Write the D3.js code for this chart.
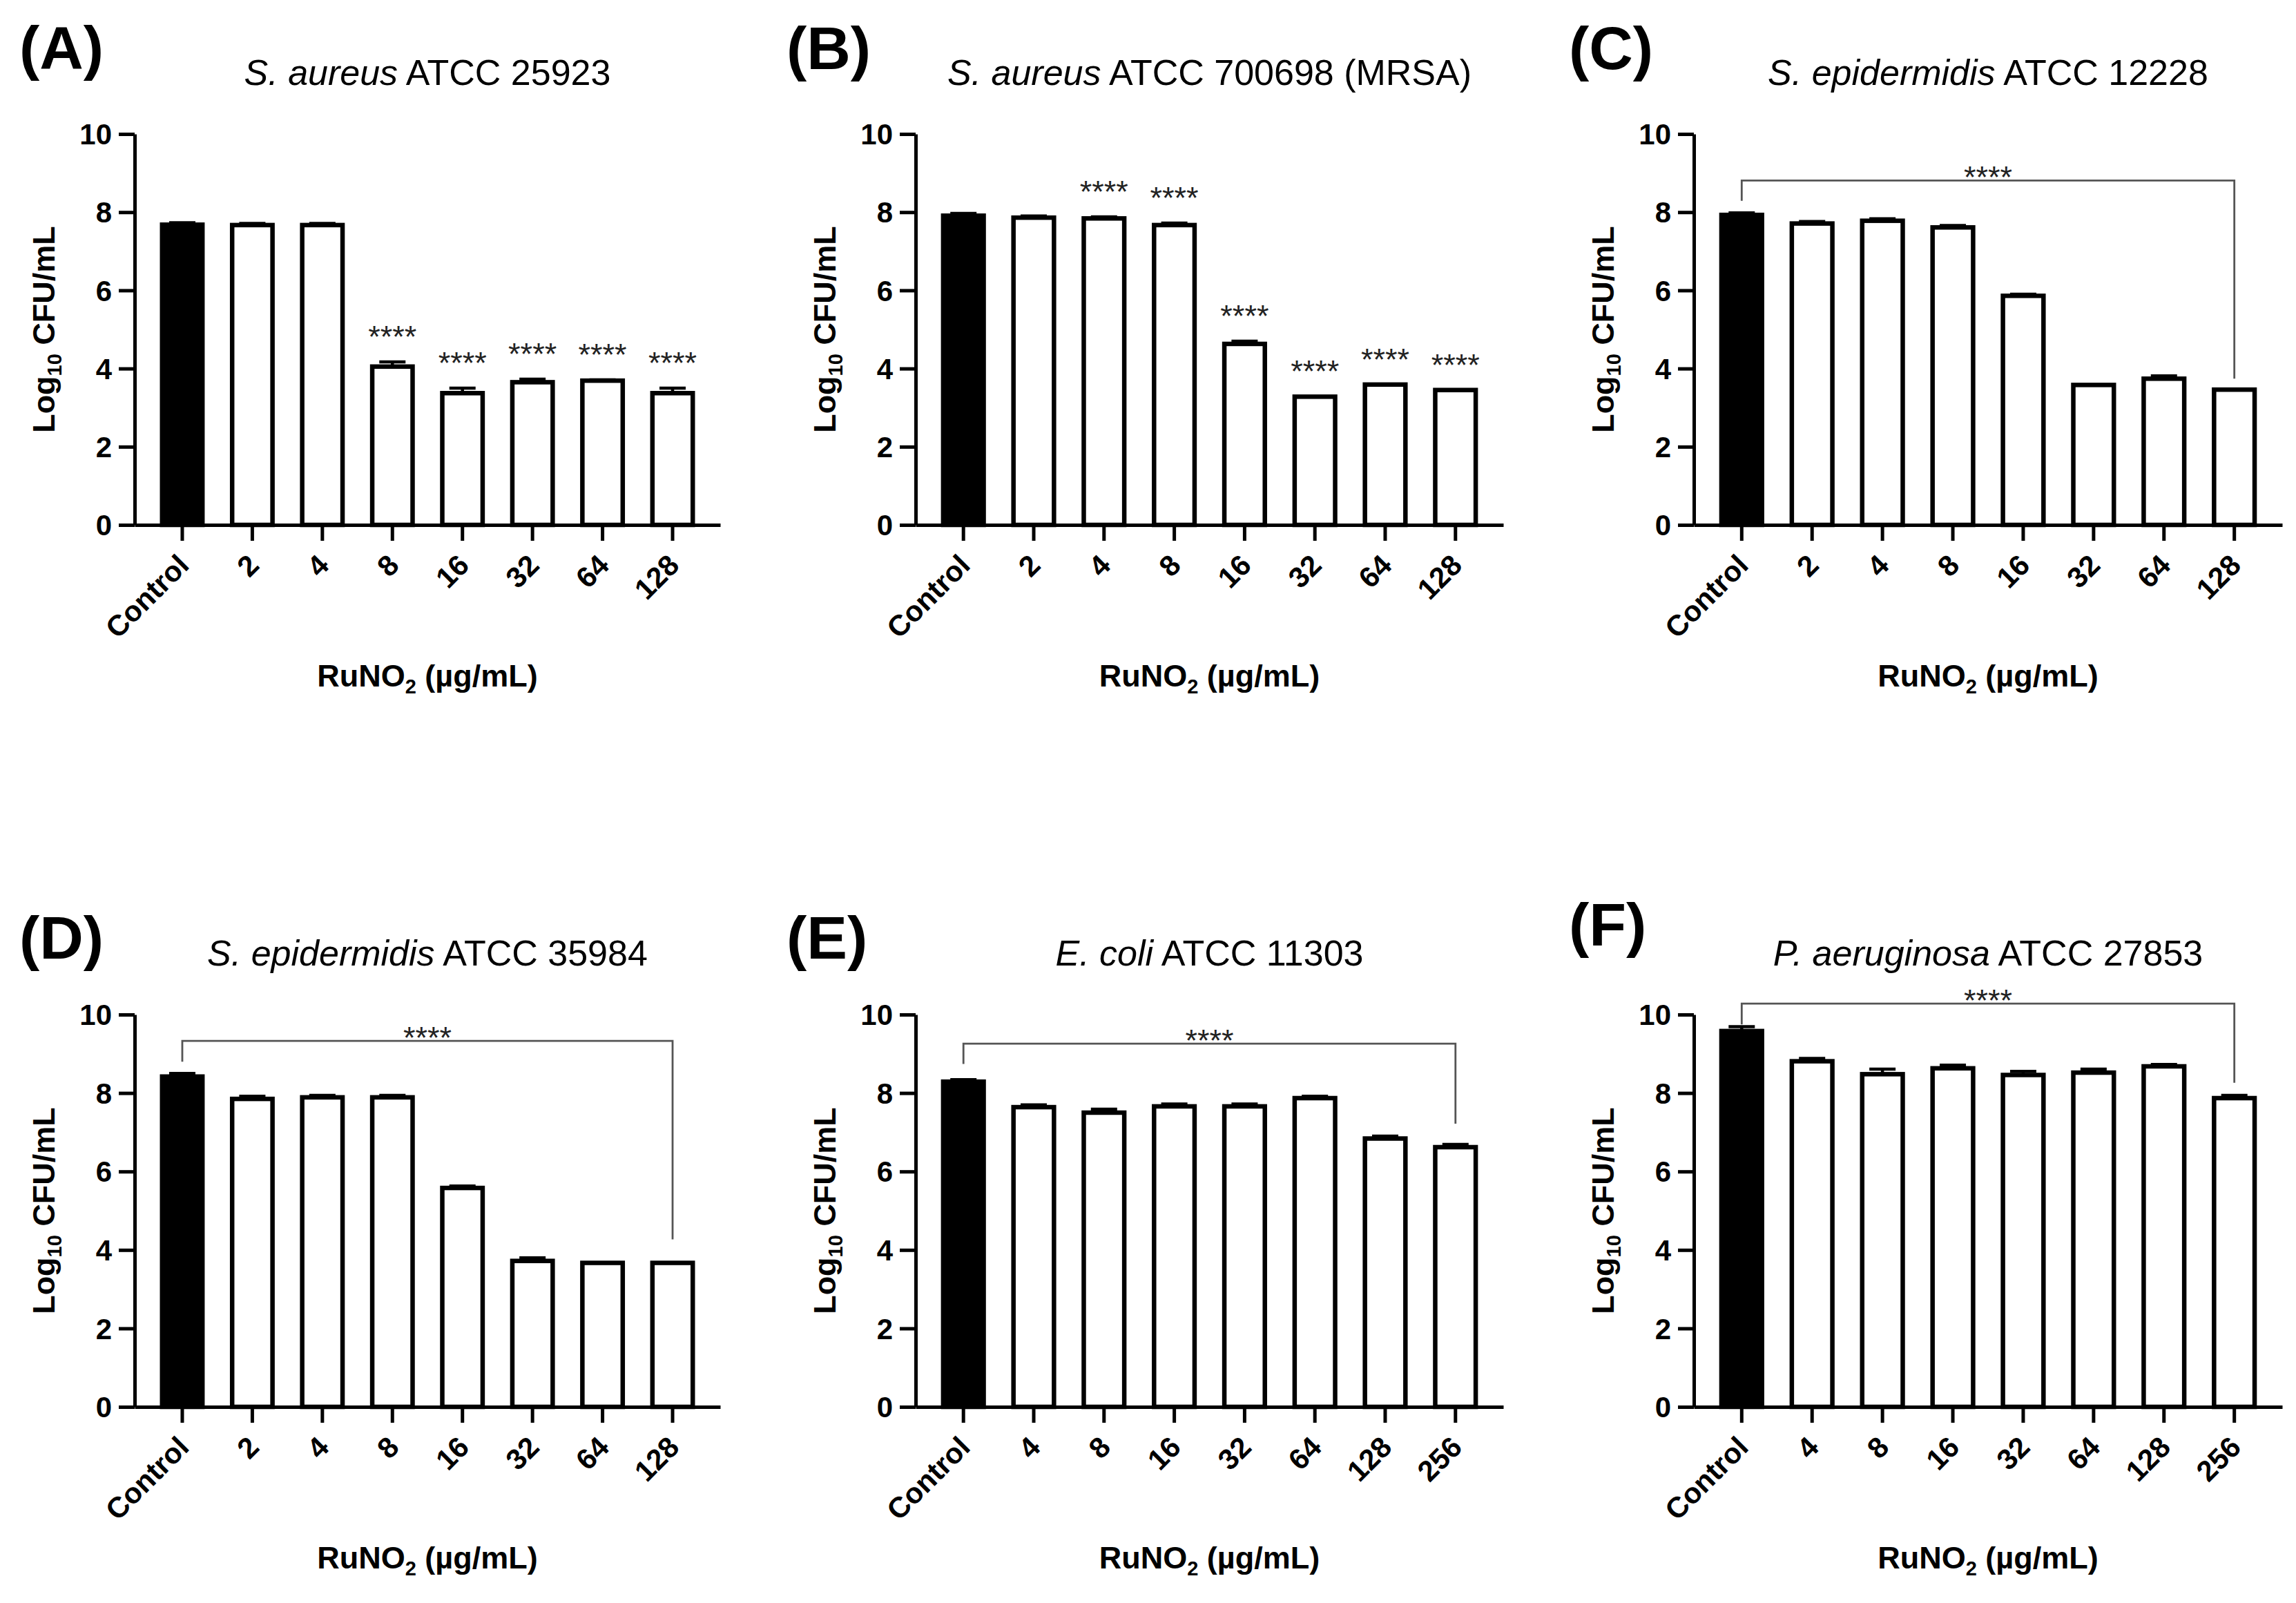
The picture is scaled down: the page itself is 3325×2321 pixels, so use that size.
<!DOCTYPE html>
<html>
<head>
<meta charset="utf-8">
<script src="https://cdn.jsdelivr.net/npm/d3@7"></script>
<style>
  body { margin: 0; background: #fff; }
  svg { display: block; font-family: "Liberation Sans", Arial, Helvetica, sans-serif; }
</style>
</head>
<body>
<div id="chart"></div>
<script>
// panel text
var panelLetters = ["(A)", "(B)", "(C)", "(D)", "(E)", "(F)"];
var titleItalic = ["S. aureus", "S. aureus", "S. epidermidis", "S. epidermidis", "E. coli", "P. aeruginosa"];
var titleRest = [" ATCC 25923", " ATCC 700698 (MRSA)", " ATCC 12228", " ATCC 35984", " ATCC 11303", " ATCC 27853"];

// x categories (RuNO2 dose, µg/mL)
var dosesLow = ["Control", "2", "4", "8", "16", "32", "64", "128"];
var dosesHigh = ["Control", "4", "8", "16", "32", "64", "128", "256"];

var yTicks = [0, 2, 4, 6, 8, 10];

// Log10 CFU/mL, mean and upper error (SD)
var meanA = [7.68, 7.67, 7.67, 4.05, 3.37, 3.65, 3.69, 3.37];
var errA  = [0.05, 0.04, 0.04, 0.12, 0.13, 0.08, 0.02, 0.13];
var meanB = [7.91, 7.86, 7.84, 7.67, 4.63, 3.28, 3.59, 3.45];
var errB  = [0.06, 0.04, 0.04, 0.05, 0.07, 0.00, 0.00, 0.00];
var meanC = [7.93, 7.71, 7.78, 7.61, 5.86, 3.58, 3.74, 3.46];
var errC  = [0.05, 0.05, 0.05, 0.05, 0.04, 0.00, 0.07, 0.00];
var meanD = [8.42, 7.85, 7.89, 7.89, 5.58, 3.72, 3.67, 3.67];
var errD  = [0.08, 0.07, 0.05, 0.05, 0.05, 0.08, 0.00, 0.00];
var meanE = [8.29, 7.64, 7.50, 7.66, 7.66, 7.87, 6.84, 6.62];
var errE  = [0.05, 0.06, 0.09, 0.06, 0.06, 0.05, 0.06, 0.07];
var meanF = [9.58, 8.81, 8.48, 8.63, 8.46, 8.52, 8.68, 7.87];
var errF  = [0.11, 0.07, 0.13, 0.08, 0.09, 0.09, 0.05, 0.07];

// "****" above single bars (1 = shown)
var starsA = [0, 0, 0, 1, 1, 1, 1, 1];
var starsB = [0, 0, 1, 1, 1, 1, 1, 1];

// bracket: [line level, left leg end, right leg end] in axis units
var bracketC = [8.81, 8.29, 3.74];
var bracketD = [9.33, 8.80, 4.27];
var bracketE = [9.26, 8.74, 7.22];
var bracketF = [10.28, 9.75, 8.26];

// layout (pixels)
var colX = [195, 1326, 2453];
var colW = [848, 851, 852];
var rowTop = [194, 1469];
var rowBottom = [760, 2037];
var letterX = [28, 1139, 2272];
var letterY = [[99, 100, 100], [1388, 1388, 1369]];

var panels = [
  { doses: dosesLow,  mean: meanA, err: errA, stars: starsA, bracket: null },
  { doses: dosesLow,  mean: meanB, err: errB, stars: starsB, bracket: null },
  { doses: dosesLow,  mean: meanC, err: errC, stars: null, bracket: bracketC },
  { doses: dosesLow,  mean: meanD, err: errD, stars: null, bracket: bracketD },
  { doses: dosesHigh, mean: meanE, err: errE, stars: null, bracket: bracketE },
  { doses: dosesHigh, mean: meanF, err: errF, stars: null, bracket: bracketF }
];

var svgWidth = 3325;
var svgHeight = 2321;
var barStroke = 6.5;
var axisStroke = 5;

var svg = d3.select("#chart")
  .append("svg")
  .attr("width", svgWidth)
  .attr("height", svgHeight);

svg.append("rect")
  .attr("width", svgWidth)
  .attr("height", svgHeight)
  .attr("fill", "#fff");

panels.forEach(function(p, i) {
  var col = i % 3;
  var row = Math.floor(i / 3);
  var width = colW[col];
  var height = rowBottom[row] - rowTop[row];

  var g = svg.append("g")
    .attr("transform", `translate(${colX[col]}, ${rowTop[row]})`);

  var x = d3.scaleBand()
    .domain(p.doses)
    .range([0, width])
    .paddingInner(0.36)
    .paddingOuter(0.36);

  var y = d3.scaleLinear()
    .domain([0, 10])
    .range([height, 0]);

  var rows = p.doses.map(function(d, k) {
    return { dose: d, mean: p.mean[k], err: p.err[k], star: p.stars ? p.stars[k] : 0 };
  });

  // bars
  g.selectAll("rect.bar")
    .data(rows)
    .enter()
    .append("rect")
    .attr("class", "bar")
    .attr("x", d => x(d.dose) + barStroke / 2)
    .attr("width", x.bandwidth() - barStroke)
    .attr("y", d => y(d.mean))
    .attr("height", d => y(0) - y(d.mean))
    .attr("fill", d => d.dose === "Control" ? "#000" : "#fff")
    .attr("stroke", "#000")
    .attr("stroke-width", barStroke);

  // upper error bars
  var eb = g.selectAll("g.err")
    .data(rows.filter(d => d.err > 0))
    .enter()
    .append("g")
    .attr("class", "err");

  eb.append("line")
    .attr("x1", d => x(d.dose) + x.bandwidth() / 2)
    .attr("x2", d => x(d.dose) + x.bandwidth() / 2)
    .attr("y1", d => y(d.mean))
    .attr("y2", d => y(d.mean + d.err))
    .attr("stroke", "#000")
    .attr("stroke-width", 4.5);

  eb.append("line")
    .attr("x1", d => x(d.dose) + x.bandwidth() / 2 - 19)
    .attr("x2", d => x(d.dose) + x.bandwidth() / 2 + 19)
    .attr("y1", d => y(d.mean + d.err))
    .attr("y2", d => y(d.mean + d.err))
    .attr("stroke", "#000")
    .attr("stroke-width", 4.5);

  // significance stars over bars
  g.selectAll("text.star")
    .data(rows.filter(d => d.star))
    .enter()
    .append("text")
    .attr("class", "star")
    .attr("x", d => x(d.dose) + x.bandwidth() / 2)
    .attr("y", d => y(d.mean + d.err) - 21)
    .attr("text-anchor", "middle")
    .attr("font-size", 45)
    .attr("fill", "#222")
    .text("****");

  // bracket from Control to highest dose
  if (p.bracket) {
    var xl = x(p.doses[0]) + x.bandwidth() / 2;
    var xr = x(p.doses[p.doses.length - 1]) + x.bandwidth() / 2;
    var b = p.bracket;
    g.append("path")
      .attr("d", d3.line()([[xl, y(b[1])], [xl, y(b[0])], [xr, y(b[0])], [xr, y(b[2])]]))
      .attr("fill", "none")
      .attr("stroke", "#555")
      .attr("stroke-width", 2.8);
    g.append("text")
      .attr("x", (xl + xr) / 2)
      .attr("y", y(b[0]) + 11)
      .attr("text-anchor", "middle")
      .attr("font-size", 45)
      .attr("fill", "#222")
      .text("****");
  }

  // axes
  var leftAxis = d3.axisLeft(y)
    .tickValues(yTicks)
    .tickSize(23)
    .tickSizeOuter(0)
    .tickPadding(10);

  var bottomAxis = d3.axisBottom(x)
    .tickSize(23)
    .tickSizeOuter(0)
    .tickPadding(10);

  var yAxis = g.append("g").call(leftAxis);
  var xAxis = g.append("g")
    .attr("transform", `translate(0, ${height})`)
    .call(bottomAxis);

  [yAxis, xAxis].forEach(function(a) {
    a.select(".domain").attr("stroke", "#000").attr("stroke-width", axisStroke);
    a.selectAll(".tick line").attr("stroke", "#000").attr("stroke-width", axisStroke);
    a.selectAll("text")
      .attr("fill", "#000")
      .attr("font-size", 42)
      .attr("font-weight", "bold")
      .attr("font-family", "'Liberation Sans', Arial, sans-serif");
  });

  yAxis.selectAll("text").attr("dy", "0.35em");

  xAxis.selectAll("text")
    .attr("text-anchor", "end")
    .attr("dy", 0)
    .attr("y", 0)
    .attr("transform", "translate(12, 61) rotate(-45)");

  // y axis title
  var yt = g.append("text")
    .attr("transform", `translate(-116, ${height / 2}) rotate(-90)`)
    .attr("text-anchor", "middle")
    .attr("font-size", 45)
    .attr("font-weight", "bold");
  yt.append("tspan").text("Log");
  yt.append("tspan").attr("font-size", 29).attr("dy", 10).text("10");
  yt.append("tspan").attr("dy", -10).text(" CFU/mL");

  // x axis title
  var xt = g.append("text")
    .attr("x", width / 2)
    .attr("y", height + 234)
    .attr("text-anchor", "middle")
    .attr("font-size", 45)
    .attr("font-weight", "bold");
  xt.append("tspan").text("RuNO");
  xt.append("tspan").attr("font-size", 29).attr("dy", 10).text("2");
  xt.append("tspan").attr("dy", -10).text(" (µg/mL)");

  // panel title
  var tt = g.append("text")
    .attr("x", width / 2)
    .attr("y", -71)
    .attr("text-anchor", "middle")
    .attr("font-size", 52);
  tt.append("tspan").attr("font-style", "italic").text(titleItalic[i]);
  tt.append("tspan").text(titleRest[i]);

  // panel letter
  svg.append("text")
    .attr("x", letterX[col])
    .attr("y", letterY[row][col])
    .attr("font-size", 88)
    .attr("font-weight", "bold")
    .text(panelLetters[i]);
});
</script>
</body>
</html>
